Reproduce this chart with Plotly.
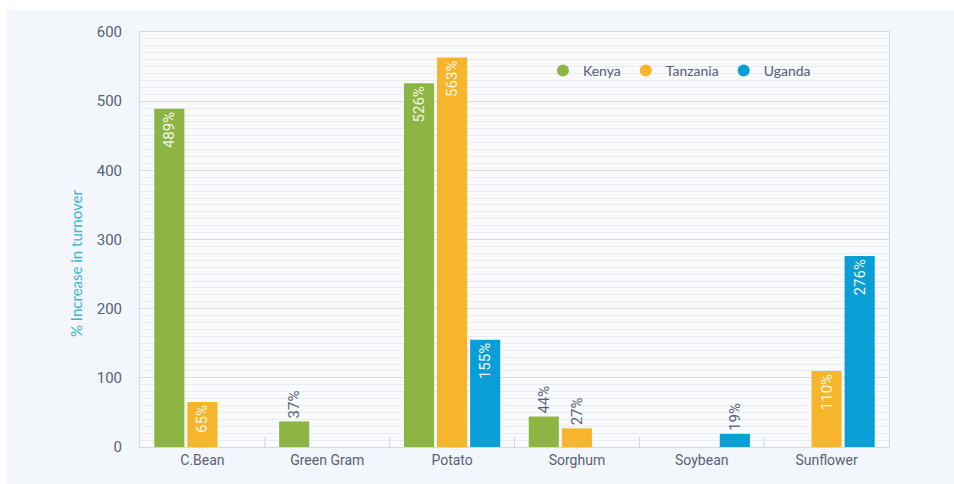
import plotly.graph_objects as go

# Crop turnover growth by country
crops = ["C.Bean", "Green Gram", "Potato", "Sorghum", "Soybean", "Sunflower"]
kenya = [489, 37, 526, 44, None, None]
tanzania = [65, None, 563, 27, None, 110]
uganda = [None, None, 155, None, 19, 276]

series = [
    ("Kenya", kenya, "#8db543"),
    ("Tanzania", tanzania, "#f7b52c"),
    ("Uganda", uganda, "#0a9ed6"),
]

W, H = 954, 484
L, R, T, B = 140, 65, 32, 37
pw, ph = W - L - R, H - T - B

fig = go.Figure()
for name, vals, color in series:
    texts = [f"{v}%" if v is not None else "" for v in vals]
    pos = ["inside" if (v is not None and v >= 60) else "outside" for v in vals]
    fig.add_trace(go.Bar(
        name=name, x=crops, y=vals, marker=dict(color=color, line=dict(width=0)),
        text=texts, textposition=pos, textangle=-90,
        insidetextanchor="end", cliponaxis=False, showlegend=False,
        insidetextfont=dict(family="Roboto", size=15, color="#f4f7ec"),
        outsidetextfont=dict(family="Roboto", size=15, color="#5b5f78"),
        hoverinfo="skip",
    ))

# round legend keys
for name, vals, color in series:
    fig.add_trace(go.Scatter(
        name=name, x=[None], y=[None], mode="markers",
        marker=dict(symbol="circle", size=13, color=color), showlegend=True,
    ))

# light panel behind the chart (paper coords relative to the plot area)
px0 = (7 - L) / pw
py1 = (H - 10 - B) / ph
fig.add_shape(type="rect", xref="paper", yref="paper",
              x0=px0, x1=(W - L) / pw, y0=-B / ph, y1=py1,
              fillcolor="#f3f6fa", line=dict(width=0), layer="below")
fig.add_shape(type="rect", xref="paper", yref="paper",
              x0=0, x1=1, y0=0, y1=1,
              fillcolor="#f8fafc", line=dict(width=0), layer="below")

# y-axis title
fig.add_annotation(text="% Increase in turnover", xref="paper", yref="paper",
                   x=(76 - L) / pw, y=(H - 264 - B) / ph, textangle=-90,
                   xanchor="center", yanchor="middle",
                   showarrow=False, font=dict(family="Lato", size=15, color="#3cb5d2"))

fig.update_layout(
    width=W, height=H,
    margin=dict(l=L, r=R, t=T, b=B),
    paper_bgcolor="white", plot_bgcolor="rgba(0,0,0,0)",
    barmode="group", bargap=0.205, bargroupgap=0.09,
    showlegend=True,
    legend=dict(orientation="h", x=0.538, y=(H - 71 - B) / ph, xanchor="left", yanchor="middle",
                font=dict(family="Lato", size=14, color="#565a78"),
                bgcolor="rgba(0,0,0,0)", itemsizing="constant",
                traceorder="normal", itemwidth=30),
    xaxis=dict(
        tickfont=dict(family="Roboto", size=14, color="#5b5f78"),
        showline=True, linecolor="#d5d9df", linewidth=1, mirror=True,
        showgrid=False, ticks="", fixedrange=True,
    ),
    yaxis=dict(
        range=[0, 600], dtick=100,
        tickfont=dict(family="Roboto", size=15, color="#5b5f78"),
        showgrid=True, gridcolor="#d8dce2", gridwidth=1,
        minor=dict(dtick=10, showgrid=True, gridcolor="#e8ecf1", gridwidth=1),
        showline=True, linecolor="#d5d9df", linewidth=1, mirror=True,
        zeroline=False, ticks="", ticklabelstandoff=14, fixedrange=True,
    ),
)

# separators between crop groups rising from the baseline
for i in range(1, len(crops)):
    fig.add_shape(type="line", xref="x", yref="paper",
                  x0=i - 0.5, x1=i - 0.5, y0=0, y1=10 / ph,
                  line=dict(color="#d0d4da", width=1))

fig.write_html("out.html")
